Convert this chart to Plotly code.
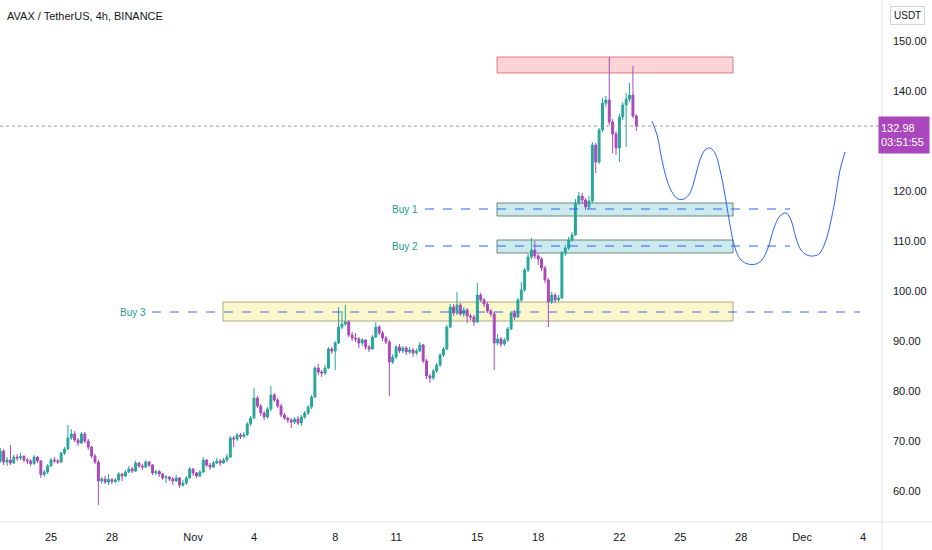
import pandas as pd
import plotly.graph_objects as go

# AVAX/USDT 4h candles (first bar Oct 22 12:00)
opens = [66.0, 68.0, 65.8, 66.2, 65.6, 66.8, 66.6, 66.9, 66.2, 66.0,
         65.5, 66.8, 66.0, 63.3, 63.8, 65.0, 66.2, 66.0, 65.8, 67.6,
         68.4, 70.6, 71.4, 70.2, 69.6, 71.4, 70.0, 68.8, 67.0, 65.8,
         62.0, 62.4, 61.8, 62.3, 61.9, 62.2, 63.4, 63.0, 63.8, 64.4,
         64.0, 65.6, 65.0, 64.8, 65.8, 65.2, 63.6, 63.9, 63.4, 62.6,
         62.8, 62.4, 62.0, 62.6, 61.2, 61.6, 62.6, 64.4, 63.6, 63.0,
         63.8, 66.2, 65.2, 64.8, 65.6, 66.0, 65.6, 66.2, 66.8, 70.6,
         70.4, 71.2, 70.9, 71.3, 73.4, 74.6, 78.6, 77.0, 75.6, 74.8,
         76.4, 79.2, 78.2, 77.0, 75.2, 74.6, 74.2, 73.8, 74.4, 73.6,
         74.8, 75.6, 76.8, 78.8, 84.6, 83.8, 83.6, 84.6, 88.4, 88.0,
         89.6, 92.8, 93.4, 93.8, 91.2, 90.6, 90.4, 89.6, 90.2, 88.8,
         88.4, 90.8, 92.8, 91.6, 90.6, 89.8, 85.8, 86.8, 88.8, 88.0,
         88.6, 87.8, 88.2, 87.6, 88.0, 89.2, 86.0, 83.0, 82.6, 84.0,
         85.2, 87.2, 88.4, 92.8, 96.8, 95.6, 97.2, 95.4, 96.2, 95.0,
         94.8, 93.8, 99.2, 98.2, 97.4, 96.0, 95.4, 89.6, 90.4, 89.4,
         90.2, 92.4, 95.6, 94.8, 98.2, 100.2, 104.2, 106.8, 108.2, 107.0,
         106.4, 104.6, 102.2, 97.8, 99.2, 98.2, 98.6, 107.6, 108.6, 110.2,
         111.2, 117.6, 119.0, 118.2, 116.8, 118.0, 129.2, 125.8, 132.2, 137.6,
         138.2, 133.8, 131.4, 128.6, 134.8, 137.2, 138.4, 139.2, 135.0]
highs = [68.6, 68.4, 66.8, 69.2, 67.2, 67.4, 67.6, 67.2, 66.6, 66.4,
         67.2, 67.0, 66.2, 64.2, 65.4, 66.6, 66.8, 66.4, 67.8, 68.8,
         73.2, 72.4, 72.0, 70.6, 71.8, 71.8, 70.4, 69.0, 67.4, 66.2,
         62.8, 63.0, 63.4, 62.6, 62.6, 63.8, 63.6, 64.2, 65.0, 64.8,
         66.0, 65.8, 65.4, 66.2, 66.0, 65.4, 64.2, 64.2, 63.6, 63.2,
         63.0, 62.8, 63.2, 62.8, 62.2, 63.0, 64.8, 64.6, 63.8, 64.2,
         66.8, 66.4, 65.6, 66.0, 66.6, 66.4, 66.6, 67.4, 71.0, 71.0,
         71.6, 71.6, 71.8, 73.8, 75.0, 80.6, 79.0, 77.4, 76.0, 76.8,
         81.0, 79.6, 78.6, 77.4, 75.6, 74.8, 74.6, 74.8, 75.0, 75.2,
         76.0, 77.2, 79.2, 85.0, 85.4, 84.2, 85.2, 88.8, 88.8, 90.0,
         96.8, 96.0, 97.2, 94.2, 91.8, 91.6, 90.8, 90.6, 90.4, 89.2,
         91.2, 93.8, 93.2, 92.0, 91.0, 90.2, 87.4, 89.2, 89.4, 89.0,
         89.0, 88.8, 88.6, 88.4, 89.8, 89.4, 86.4, 83.4, 84.4, 85.6,
         87.6, 88.8, 93.2, 97.4, 97.4, 99.8, 97.6, 96.8, 96.6, 95.4,
         95.2, 101.6, 99.6, 98.6, 97.8, 96.4, 95.8, 91.4, 90.8, 90.6,
         92.8, 96.0, 96.2, 98.6, 101.8, 104.6, 107.4, 110.6, 110.0, 107.4,
         106.8, 105.0, 102.6, 99.8, 99.6, 99.2, 108.0, 109.2, 110.8, 111.8,
         118.4, 119.8, 119.6, 118.6, 119.0, 129.8, 129.6, 132.6, 138.6, 139.0,
         146.8, 134.4, 132.0, 135.4, 137.8, 139.6, 141.6, 145.0, 135.4]
lows = [65.6, 65.2, 65.0, 65.2, 65.4, 66.0, 66.2, 65.8, 65.4, 65.0,
        65.2, 65.6, 62.6, 62.8, 63.4, 64.8, 65.6, 65.4, 65.6, 67.2,
        68.2, 70.2, 69.8, 69.0, 69.4, 69.6, 68.2, 66.6, 65.4, 57.2,
        61.4, 61.4, 61.2, 61.4, 61.6, 61.8, 62.0, 62.8, 63.6, 63.6,
        63.8, 64.6, 64.2, 64.6, 64.8, 63.2, 63.2, 62.8, 62.2, 61.6,
        62.0, 61.2, 61.8, 60.6, 60.8, 61.2, 62.4, 63.0, 62.6, 62.8,
        63.6, 64.8, 64.2, 64.6, 65.4, 65.0, 65.4, 65.8, 66.6, 68.8,
        70.0, 70.4, 70.6, 71.0, 73.0, 74.4, 76.6, 75.0, 74.2, 74.4,
        76.0, 77.8, 76.6, 74.8, 74.2, 73.6, 72.6, 73.4, 73.2, 73.0,
        74.4, 75.2, 76.4, 78.6, 83.2, 82.8, 83.2, 84.4, 87.4, 84.2,
        89.4, 92.4, 93.0, 90.8, 90.0, 89.8, 88.6, 89.0, 88.2, 87.8,
        88.2, 90.6, 91.2, 90.0, 89.4, 79.0, 85.4, 86.4, 87.6, 87.6,
        87.2, 87.4, 86.8, 87.2, 87.8, 85.6, 82.4, 81.6, 82.2, 83.6,
        84.8, 86.8, 88.2, 92.6, 95.0, 95.2, 95.0, 94.8, 93.6, 94.2,
        93.0, 93.6, 97.8, 96.8, 95.6, 94.8, 84.2, 89.2, 88.8, 89.0,
        89.8, 92.2, 94.2, 94.6, 97.8, 99.8, 103.8, 106.4, 106.4, 105.2,
        104.0, 101.6, 92.8, 97.4, 97.6, 97.8, 98.4, 107.0, 108.2, 109.8,
        111.0, 117.2, 117.4, 116.2, 116.4, 117.6, 123.6, 125.4, 131.8, 136.8,
        133.2, 127.6, 127.2, 125.8, 134.2, 128.8, 137.8, 134.6, 132.0]
closes = [68.0, 65.8, 66.2, 65.6, 66.8, 66.6, 66.9, 66.2, 66.0, 65.5,
          66.8, 66.0, 63.3, 63.8, 65.0, 66.2, 66.0, 65.8, 67.6, 68.4,
          70.6, 71.4, 70.2, 69.6, 71.4, 70.0, 68.8, 67.0, 65.8, 62.0,
          62.4, 61.8, 62.3, 61.9, 62.2, 63.4, 63.0, 63.8, 64.4, 64.0,
          65.6, 65.0, 64.8, 65.8, 65.2, 63.6, 63.9, 63.4, 62.6, 62.8,
          62.4, 62.0, 62.6, 61.2, 61.6, 62.6, 64.4, 63.6, 63.0, 63.8,
          66.2, 65.2, 64.8, 65.6, 66.0, 65.6, 66.2, 66.8, 70.6, 70.4,
          71.2, 70.9, 71.3, 73.4, 74.6, 78.6, 77.0, 75.6, 74.8, 76.4,
          79.2, 78.2, 77.0, 75.2, 74.6, 74.2, 73.8, 74.4, 73.6, 74.8,
          75.6, 76.8, 78.8, 84.6, 83.8, 83.6, 84.6, 88.4, 88.0, 89.6,
          92.8, 93.4, 93.8, 91.2, 90.6, 90.4, 89.6, 90.2, 88.8, 88.4,
          90.8, 92.8, 91.6, 90.6, 89.8, 85.8, 86.8, 88.8, 88.0, 88.6,
          87.8, 88.2, 87.6, 88.0, 89.2, 86.0, 83.0, 82.6, 84.0, 85.2,
          87.2, 88.4, 92.8, 96.8, 95.6, 97.2, 95.4, 96.2, 95.0, 94.8,
          93.8, 99.2, 98.2, 97.4, 96.0, 95.4, 89.6, 90.4, 89.4, 90.2,
          92.4, 95.6, 94.8, 98.2, 100.2, 104.2, 106.8, 108.2, 107.0, 106.4,
          104.6, 102.2, 97.8, 99.2, 98.2, 98.6, 107.6, 108.6, 110.2, 111.2,
          117.6, 119.0, 118.2, 116.8, 118.0, 129.2, 125.8, 132.2, 137.6, 138.2,
          133.8, 131.4, 128.6, 134.8, 137.2, 138.4, 139.2, 135.0, 132.98]
times = pd.date_range('2021-10-22 12:00', periods=len(closes), freq='4h')

# hand-drawn projection path
proj_time = ['2021-11-23 14:30', '2021-11-23 20:30', '2021-11-24 02:20', '2021-11-24 08:15',
             '2021-11-24 14:10', '2021-11-24 21:15', '2021-11-25 04:20', '2021-11-25 11:30',
             '2021-11-25 17:20', '2021-11-25 23:15', '2021-11-26 05:10', '2021-11-26 11:05',
             '2021-11-26 17:00', '2021-11-26 22:55', '2021-11-27 04:50', '2021-11-27 10:45',
             '2021-11-27 16:40', '2021-11-27 23:45', '2021-11-28 08:00', '2021-11-28 17:30',
             '2021-11-29 00:35', '2021-11-29 07:40', '2021-11-29 14:45', '2021-11-29 21:50',
             '2021-11-30 05:00', '2021-11-30 10:50', '2021-11-30 16:45', '2021-11-30 22:40',
             '2021-12-01 05:45', '2021-12-01 12:55', '2021-12-01 20:00', '2021-12-02 03:05',
             '2021-12-02 09:00', '2021-12-02 14:55', '2021-12-02 20:50', '2021-12-03 02:45']
proj_price = [134.0, 131.2, 126.2, 122.2, 119.8, 118.4, 118.4, 119.6, 122.6, 126.2,
              128.2, 128.6, 127.6, 124.2, 119.2, 113.2, 108.6, 106.2, 105.4, 105.4,
              106.2, 108.6, 112.6, 115.0, 115.6, 114.2, 110.6, 108.2, 107.2, 107.0,
              107.4, 109.6, 113.2, 118.2, 124.2, 127.8]

# zones and buy levels
sell_zone = [143.6, 146.8]
buy1_zone = [115.0, 117.6]
buy2_zone = [107.6, 110.2]
buy3_zone = [94.0, 97.8]
buy_levels = {'Buy 1': 116.4, 'Buy 2': 109.0, 'Buy 3': 95.8}
last_price = 132.98

tick_dates = ['2021-10-25', '2021-10-28', '2021-11-01', '2021-11-04', '2021-11-08', '2021-11-11',
              '2021-11-15', '2021-11-18', '2021-11-22', '2021-11-25', '2021-11-28', '2021-12-01',
              '2021-12-04']
tick_text = ['25', '28', 'Nov', '4', '8', '11', '15', '18', '22', '25', '28', 'Dec', '4']
price_ticks = [60, 70, 80, 90, 100, 110, 120, 140, 150]

FONT = 'Liberation Sans, Arial, sans-serif'
UP = '#26a69a'
DOWN = '#ab47bc'
TXT = '#131722'

fig = go.Figure()
fig.add_trace(go.Candlestick(x=times, open=opens, high=highs, low=lows, close=closes,
                             increasing=dict(line=dict(color=UP, width=1), fillcolor=UP),
                             decreasing=dict(line=dict(color=DOWN, width=1), fillcolor=DOWN),
                             whiskerwidth=0, hoverinfo='skip', showlegend=False))
fig.add_trace(go.Scatter(x=proj_time, y=proj_price, mode='lines',
                         line=dict(color='#2962ff', width=1, shape='spline'),
                         hoverinfo='skip', showlegend=False))

# boxes
fig.add_shape(type='rect', xref='x', yref='y', x0='2021-11-15 23:20', x1='2021-11-27 14:20',
              y0=sell_zone[0], y1=sell_zone[1], fillcolor='rgba(242,54,69,0.22)',
              line=dict(color='rgba(200,80,90,0.7)', width=1), layer='below')
for z in (buy1_zone, buy2_zone):
    fig.add_shape(type='rect', xref='x', yref='y', x0='2021-11-15 23:20', x1='2021-11-27 14:20',
                  y0=z[0], y1=z[1], fillcolor='rgba(0,151,167,0.2)',
                  line=dict(color='rgba(80,110,95,0.8)', width=1), layer='below')
fig.add_shape(type='rect', xref='x', yref='y', x0='2021-11-02 11:20', x1='2021-11-27 14:20',
              y0=buy3_zone[0], y1=buy3_zone[1], fillcolor='rgba(245,235,120,0.38)',
              line=dict(color='rgba(150,150,100,0.8)', width=1), layer='below')

# dashed buy lines + labels
line_spans = {'Buy 1': ('2021-11-12 10:10', '2021-11-30 09:40', '2021-11-11 10:30', '#2962ff'),
              'Buy 2': ('2021-11-12 10:10', '2021-11-30 09:40', '2021-11-11 10:30', '#2962ff'),
              'Buy 3': ('2021-10-29 23:25', '2021-12-03 20:25', '2021-10-29 01:00', '#5560e4')}
for name, lvl in buy_levels.items():
    x0, x1, xl, col = line_spans[name]
    fig.add_shape(type='line', xref='x', yref='y', x0=x0, x1=x1, y0=lvl, y1=lvl,
                  line=dict(color=col, width=1, dash='dash'))
    fig.add_annotation(x=xl, y=lvl, xref='x', yref='y', text=name, showarrow=False,
                       font=dict(family=FONT, size=10, color='#1b9e89'))

# last price dotted line
fig.add_shape(type='line', xref='paper', yref='y', x0=0, x1=1, y0=last_price, y1=last_price,
              line=dict(color='#9598a1', width=1, dash='dot'))

# frame lines around price / time scales
fig.add_shape(type='line', xref='paper', yref='paper', x0=1, x1=1, y0=-0.06, y1=1,
              line=dict(color='#e0e3eb', width=1))
fig.add_shape(type='line', xref='paper', yref='paper', x0=0, x1=1.06, y0=0, y1=0,
              line=dict(color='#e0e3eb', width=1))

fig.add_annotation(x=0.006, y=0.969, xref='paper', yref='paper', xanchor='left', yanchor='middle',
                   text='AVAX / TetherUS, 4h, BINANCE', showarrow=False,
                   font=dict(family=FONT, size=11, color=TXT))
fig.add_annotation(x=1.0285, y=0.971, xref='paper', yref='paper', xanchor='center', yanchor='middle',
                   text='USDT', showarrow=False, bordercolor='#d1d4dc', borderwidth=1, borderpad=3,
                   font=dict(family=FONT, size=10, color=TXT))
fig.add_annotation(x=0.9955, y=135.0, xref='paper', yref='y', xanchor='left', yanchor='top',
                   text='%.2f<br>03:51:55' % last_price, showarrow=False, align='left',
                   bgcolor='#ab47bc', width=46, height=32, borderpad=2,
                   font=dict(family=FONT, size=11, color='white'))

fig.update_layout(
    width=932, height=550,
    margin=dict(l=0, r=50, t=0, b=28),
    paper_bgcolor='white', plot_bgcolor='white',
    font=dict(family=FONT, size=11, color=TXT),
    boxgap=0.2,
    xaxis=dict(type='date', range=['2021-10-22 11:42', '2021-12-04 22:28'],
               tickvals=tick_dates, ticktext=tick_text, showgrid=False, zeroline=False,
               rangeslider=dict(visible=False), ticks='', ticklabelstandoff=7,
               tickfont=dict(family=FONT, size=11, color=TXT)),
    yaxis=dict(side='right', range=[53.8, 158.2], tickvals=price_ticks,
               ticktext=['%.2f' % v for v in price_ticks], showgrid=False, zeroline=False,
               ticks='', ticklabelstandoff=10, tickfont=dict(family=FONT, size=11, color=TXT)),
)

fig.write_html('out.html', config={'displayModeBar': False},
               post_script="document.body.style.margin='0';")
